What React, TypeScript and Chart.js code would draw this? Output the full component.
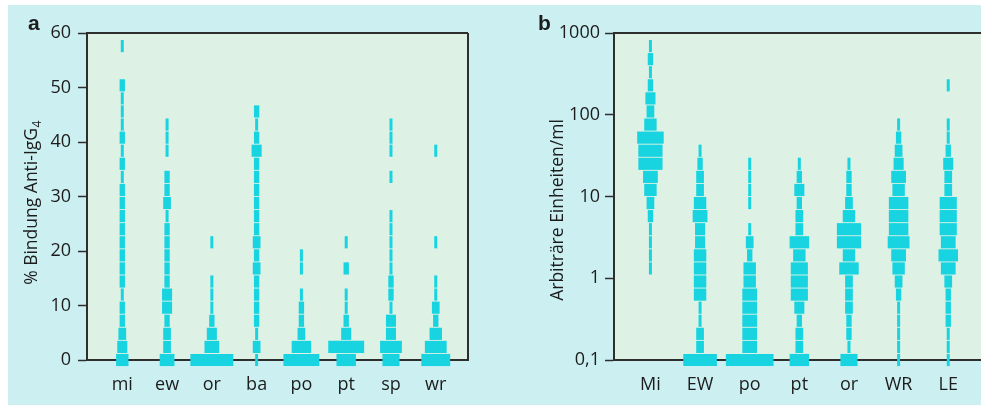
import React, { useEffect, useRef } from 'react';
import { Chart, registerables } from 'chart.js';

Chart.register(...registerables);

// ---------- Panel a: % Bindung Anti-IgG4 (linear) ----------
const categoriesA = ['mi', 'ew', 'or', 'ba', 'po', 'pt', 'sp', 'wr'];
const binStepA = 2.4; // bin height in % units, bin k is centred at k * binStepA
const yTicksA = [0, 10, 20, 30, 40, 50, 60];
// number of sera per bin (bin 0 at the bottom)
const miA = [5, 4, 3, 2, 2, 1, 2, 2, 2, 2, 2, 2, 2, 2, 1, 2, 1, 2, 1, 1, 1, 2, 0, 0, 1];
const ewA = [6, 3, 3, 2, 4, 4, 2, 2, 2, 2, 2, 1, 3, 2, 2, 0, 1, 1, 1];
const orA = [18, 6, 4, 2, 1, 1, 1, 0, 0, 1];
const baA = [1, 3, 1, 2, 2, 2, 2, 3, 2, 3, 2, 2, 2, 2, 2, 2, 4, 2, 1, 2];
const poA = [15, 8, 3, 2, 2, 1, 0, 1, 1];
const ptA = [8, 15, 4, 2, 1, 1, 0, 2, 0, 1];
const spA = [7, 9, 4, 4, 1, 2, 2, 1, 1, 1, 1, 1, 0, 0, 1, 0, 1, 1, 1];
const wrA = [12, 9, 5, 2, 3, 1, 1, 0, 0, 1, 0, 0, 0, 0, 0, 0, 1];
const seriesA = [miA, ewA, orA, baA, poA, ptA, spA, wrA];
const yTitleA = '% Bindung Anti-IgG';
const yTitleSubA = '4';
const panelLetterA = 'a';

// ---------- Panel b: Arbiträre Einheiten/ml (log) ----------
const categoriesB = ['Mi', 'EW', 'po', 'pt', 'or', 'WR', 'LE'];
const binStartLogB = -1; // log10 of the lowest bin centre (0,1)
const binStepLogB = 0.16; // bin height in decades
const yTickValuesB = [0.1, 1, 10, 100, 1000];
const yTickLabelsB = ['0,1', '1', '10', '100', '1000'];
const MiB = [0, 0, 0, 0, 0, 0, 0, 1, 1, 1, 1, 2, 3, 5, 6, 10, 10, 11, 5, 3, 4, 2, 1, 2, 1];
const EWB = [14, 3, 3, 1, 1, 5, 5, 5, 5, 4, 4, 6, 5, 3, 3, 2, 1];
const poB = [20, 6, 6, 6, 6, 6, 5, 5, 2, 3, 1, 0, 1, 1, 1, 1];
const ptB = [8, 3, 3, 2, 4, 7, 7, 7, 5, 8, 3, 3, 2, 4, 2, 1];
const orB = [7, 1, 2, 2, 3, 3, 3, 8, 5, 10, 10, 5, 3, 2, 2, 1];
const WRB = [1, 1, 1, 1, 1, 2, 3, 5, 6, 9, 8, 8, 8, 5, 6, 4, 3, 2, 1];
const LEB = [1, 1, 1, 2, 2, 2, 3, 6, 8, 6, 7, 7, 7, 3, 3, 4, 2, 1, 1, 0, 0, 1];
const seriesB = [MiB, EWB, poB, ptB, orB, WRB, LEB];
const yTitleB = 'Arbiträre Einheiten/ml';
const panelLetterB = 'b';

// ---------- styling ----------
const OUTER_BG = '#ccf0f2';
const PLOT_BG = '#ddf1e4';
const BAR = '#18d4e0';
const AXIS = '#2e2e2e';
const TEXT = '#1c1c1c';
const FONT = '"Open Sans", "DejaVu Sans", sans-serif';

type Series = number[][];

function buildBars(series: Series, binValue: (k: number) => number, unit: number) {
  const data: { x: [number, number]; y: number }[] = [];
  series.forEach((counts, ci) => {
    const c = ci + 1;
    counts.forEach((n, k) => {
      if (n > 0) data.push({ y: binValue(k), x: [c - (n * unit) / 2, c + (n * unit) / 2] });
    });
  });
  return data;
}

const plotBgPlugin = {
  id: 'plotBg',
  beforeDraw(chart: any) {
    const { ctx, chartArea } = chart;
    ctx.save();
    ctx.fillStyle = PLOT_BG;
    ctx.fillRect(chartArea.left, chartArea.top, chartArea.right - chartArea.left, chartArea.bottom - chartArea.top);
    ctx.restore();
  },
};

function framePlugin(drawRight: boolean) {
  return {
    id: 'frame',
    beforeDatasetsDraw(chart: any) {
      const { ctx, chartArea } = chart;
      ctx.save();
      ctx.strokeStyle = AXIS;
      ctx.lineWidth = 2;
      ctx.beginPath();
      ctx.moveTo(chartArea.left, chartArea.top);
      ctx.lineTo(chartArea.right, chartArea.top);
      if (drawRight) {
        ctx.moveTo(chartArea.right, chartArea.top);
        ctx.lineTo(chartArea.right, chartArea.bottom);
      }
      ctx.stroke();
      ctx.restore();
    },
  };
}

function textPlugin(letter: string, letterX: number, title: string, sub: string, titleX: number, titleY: number) {
  return {
    id: 'texts',
    afterDraw(chart: any) {
      const ctx = chart.ctx;
      ctx.save();
      ctx.fillStyle = TEXT;
      ctx.textBaseline = 'alphabetic';
      ctx.textAlign = 'left';
      ctx.font = 'bold 21px "Liberation Sans", Arial, sans-serif';
      ctx.fillText(letter, letterX, 25);
      ctx.translate(titleX, titleY);
      ctx.rotate(-Math.PI / 2);
      ctx.font = `17.5px ${FONT}`;
      const w1 = ctx.measureText(title).width;
      ctx.font = `12px ${FONT}`;
      const w2 = sub ? ctx.measureText(sub).width : 0;
      const start = -(w1 + w2) / 2;
      ctx.font = `17.5px ${FONT}`;
      ctx.fillText(title, start, 0);
      if (sub) {
        ctx.font = `12px ${FONT}`;
        ctx.fillText(sub, start + w1 + 0.5, 4);
      }
      ctx.restore();
    },
  };
}

function makeChart(canvas: HTMLCanvasElement, panel: 'a' | 'b') {
  const isA = panel === 'a';
  const categories = isA ? categoriesA : categoriesB;
  const data = isA
    ? buildBars(seriesA, (k) => k * binStepA, 0.0525)
    : buildBars(seriesB, (k) => Math.pow(10, binStartLogB + k * binStepLogB), 0.0474);

  const tickFont = { family: FONT, size: 18 };

  const yScale: any = isA
    ? {
        type: 'linear',
        min: 0,
        max: 60,
        afterBuildTicks: (s: any) => {
          s.ticks = yTicksA.map((v) => ({ value: v }));
        },
        ticks: { padding: 7, color: TEXT, font: tickFont, callback: (v: any) => String(v) },
      }
    : {
        type: 'logarithmic',
        min: 0.1,
        max: 1000,
        afterBuildTicks: (s: any) => {
          s.ticks = yTickValuesB.map((v) => ({ value: v }));
        },
        ticks: {
          padding: 5,
          color: TEXT,
          font: tickFont,
          callback: (v: any) => {
            const i = yTickValuesB.findIndex((t) => Math.abs(t - v) < 1e-9 * Math.max(1, v));
            return i >= 0 ? yTickLabelsB[i] : '';
          },
        },
      };

  Object.assign(yScale, {
    offset: false,
    position: 'left',
    afterFit: (s: any) => {
      s.width = isA ? 79 : 124;
    },
    grid: { display: true, offset: false, drawOnChartArea: false, drawTicks: true, tickLength: 9, tickColor: AXIS, tickWidth: 1.5 },
    border: { display: true, color: AXIS, width: 2 },
  });

  return new Chart(canvas, {
    type: 'bar',
    data: {
      datasets: [
        {
          data: data as any,
          backgroundColor: BAR,
          borderWidth: 0,
          borderSkipped: false,
          barThickness: 11.5,
          clip: false as any,
        },
      ],
    },
    options: {
      indexAxis: 'y',
      animation: false,
      responsive: false,
      events: [],
      layout: { padding: { left: 0, right: isA ? 22 : 0, top: 28, bottom: 0 } },
      plugins: { legend: { display: false }, tooltip: { enabled: false }, title: { display: false } },
      scales: {
        x: {
          type: 'linear',
          position: 'bottom',
          min: isA ? 0.212 : 0.266,
          max: isA ? 8.72 : 7.66,
          afterBuildTicks: (s: any) => {
            s.ticks = categories.map((_, i) => ({ value: i + 1 }));
          },
          afterFit: (s: any) => {
            s.height = 45;
          },
          ticks: {
            padding: 14,
            color: TEXT,
            font: tickFont,
            autoSkip: false,
            maxRotation: 0,
            callback: (v: any) => categories[Math.round(v) - 1] ?? '',
          },
          grid: { display: true, drawOnChartArea: false, drawTicks: false },
          border: { display: true, color: AXIS, width: 2 },
        },
        y: yScale,
      },
    } as any,
    plugins: [
      plotBgPlugin,
      framePlugin(isA),
      isA
        ? textPlugin(panelLetterA, 20, yTitleA, yTitleSubA, 29, 198)
        : textPlugin(panelLetterB, 48, yTitleB, '', 73, 205),
    ],
  });
}

export default function App() {
  const refA = useRef<HTMLCanvasElement | null>(null);
  const refB = useRef<HTMLCanvasElement | null>(null);

  useEffect(() => {
    const a = makeChart(refA.current!, 'a');
    const b = makeChart(refB.current!, 'b');
    return () => {
      a.destroy();
      b.destroy();
    };
  }, []);

  return (
    <div
      style={{
        position: 'absolute',
        left: 8,
        top: 5,
        width: 973,
        height: 400,
        background: OUTER_BG,
        overflow: 'hidden',
      }}
    >
      <canvas ref={refA} width={482} height={400} style={{ position: 'absolute', left: 0, top: 0, width: 482, height: 400 }} />
      <canvas ref={refB} width={491} height={400} style={{ position: 'absolute', left: 482, top: 0, width: 491, height: 400 }} />
    </div>
  );
}
